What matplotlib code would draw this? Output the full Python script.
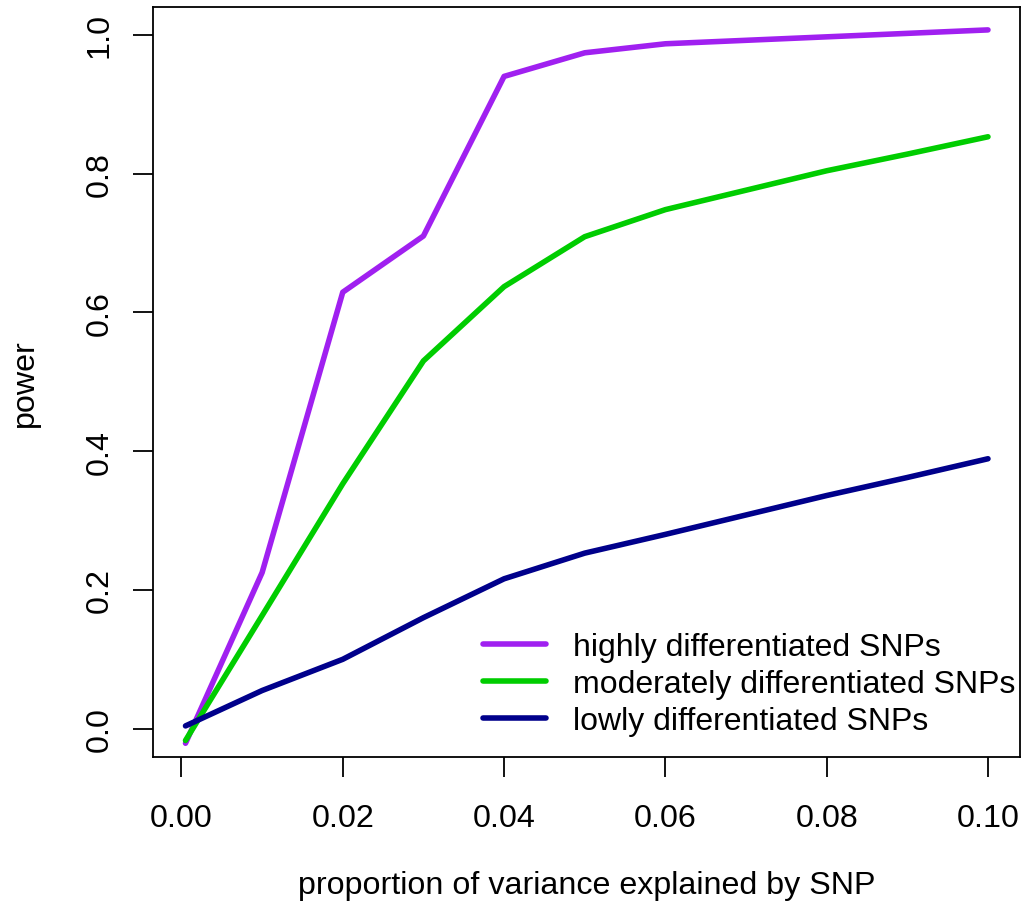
import matplotlib
matplotlib.use("Agg")
import matplotlib.pyplot as plt

plt.rcParams['font.family'] = ['Liberation Sans', 'DejaVu Sans']

x_vals = [0.0005, 0.01, 0.02, 0.03, 0.04, 0.05, 0.06, 0.07, 0.08, 0.09, 0.10]
high = [-0.021, 0.225, 0.629, 0.710, 0.940, 0.974, 0.987, 0.992, 0.997, 1.002, 1.007]
moderate = [-0.017, 0.163, 0.353, 0.530, 0.637, 0.709, 0.748, 0.776, 0.804, 0.828, 0.853]
low = [0.004, 0.055, 0.100, 0.160, 0.216, 0.253, 0.280, 0.308, 0.336, 0.362, 0.389]

labels = ["highly differentiated SNPs", "moderately differentiated SNPs",
          "lowly differentiated SNPs"]
colors = ["#A020F0", "#00CD00", "#00008B"]
x_ticks = [0.00, 0.02, 0.04, 0.06, 0.08, 0.10]
y_ticks = [0.0, 0.2, 0.4, 0.6, 0.8, 1.0]

FS = 23.2
LFS = 23.0

fig = plt.figure(figsize=(10.23, 9.12), dpi=100)
ax = fig.add_axes([153/1023, 1-758/912, (1020-153)/1023, (758-8)/912])

for ys, lab, c in zip([high, moderate, low], labels, colors):
    ax.plot(x_vals, ys, color=c, lw=4.0, solid_capstyle='round',
            solid_joinstyle='round', label=lab)

ax.set_xlim(-0.00353, 0.10397)
ax.set_ylim(-0.0408, 1.040)
ax.set_xticks(x_ticks)
ax.set_xticklabels([f"{v:.2f}" for v in x_ticks])
ax.set_yticks(y_ticks)
ax.set_yticklabels([f"{v:.1f}" for v in y_ticks], rotation=90, va='center')
ax.tick_params(axis='both', length=14.4, width=1.3, labelsize=FS, direction='out')
ax.tick_params(axis='x', pad=19)
ax.tick_params(axis='y', pad=13)
for s in ax.spines.values():
    s.set_linewidth(1.3)

ax.set_xlabel("proportion of variance explained by SNP", fontsize=FS)
ax.set_ylabel("power", fontsize=FS)
ax.xaxis.set_label_coords(0.5, -0.171)
ax.xaxis.label.set_va('center')
ax.yaxis.set_label_coords(-0.1476, 0.5)
ax.yaxis.label.set_va('center')

lpx = LFS * 100 / 72
leg = ax.legend(loc='upper left', bbox_to_anchor=((483-153)/867, (758-633)/750),
                frameon=False, fontsize=LFS, handlelength=63/lpx, handletextpad=0.85,
                labelspacing=0.22, borderpad=0, borderaxespad=0)

fig.savefig("out.png", dpi=100)
